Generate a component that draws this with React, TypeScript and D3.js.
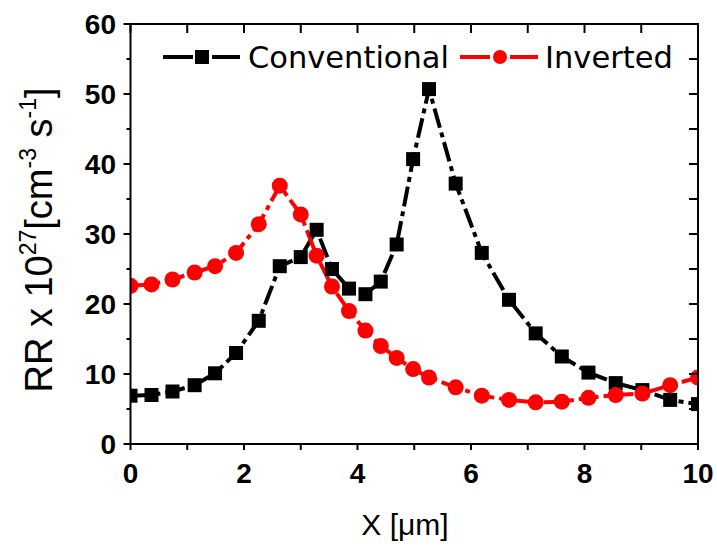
import React from "react";
import * as d3 from "d3";

const positions = [0, 0.37, 0.74, 1.13, 1.49, 1.86, 2.26, 2.63, 3.0, 3.28, 3.55, 3.85, 4.14, 4.41, 4.69, 4.98, 5.26, 5.73, 6.19, 6.67, 7.14, 7.6, 8.07, 8.55, 9.02, 9.51, 10];
const conventional = [6.9, 7.0, 7.5, 8.4, 10.1, 13.0, 17.6, 25.4, 26.7, 30.6, 25.0, 22.2, 21.4, 23.2, 28.5, 40.7, 50.7, 37.2, 27.3, 20.6, 15.8, 12.5, 10.2, 8.7, 7.7, 6.3, 5.7];
const inverted = [22.6, 22.8, 23.5, 24.5, 25.4, 27.3, 31.4, 36.9, 32.8, 26.9, 22.5, 19.0, 16.2, 14.0, 12.3, 10.7, 9.5, 8.1, 6.9, 6.3, 5.95, 6.05, 6.6, 7.0, 7.2, 8.4, 9.5];
const xTickLabels = [0, 2, 4, 6, 8, 10];
const yTickLabels = [0, 10, 20, 30, 40, 50, 60];
const seriesNames = ["Conventional", "Inverted"];

const W = 717;
const H = 546;
const L = 130.5, R = 698, T = 24, B = 444;

export default function App() {
  const x = d3.scaleLinear().domain([0, 10]).range([L, R]);
  const y = d3.scaleLinear().domain([0, 60]).range([B, T]);
  const line = d3.line<[number, number]>().x((d) => x(d[0])).y((d) => y(d[1]));
  const convPts = positions.map((p, i) => [p, conventional[i]] as [number, number]);
  const invPts = positions.map((p, i) => [p, inverted[i]] as [number, number]);
  const xMinor = d3.range(0, 10.001, 1);
  const yMinor = d3.range(0, 60.001, 5);
  const font = "'Liberation Sans', Arial, sans-serif";
  const font2 = "'DejaVu Sans', Verdana, sans-serif";
  const sq = 14;
  const cr = 8;
  return (
    <svg width={W} height={H} style={{ position: "absolute", left: 0, top: 0, background: "#fff" }}>
      <rect x={0} y={0} width={W} height={H} fill="#fff" />
      <defs>
        <clipPath id="plot">
          <rect x={L} y={T} width={R - L} height={B - T} />
        </clipPath>
      </defs>
      <g clipPath="url(#plot)">
        <path d={line(convPts) || ""} fill="none" stroke="#000" strokeWidth={4} strokeDasharray="20,5,5,5" />
        <path d={line(invPts) || ""} fill="none" stroke="#ff0000" strokeWidth={4} strokeDasharray="20,5,5,5" />
        {convPts.map((d, i) => (
          <rect key={"c" + i} x={x(d[0]) - sq / 2} y={y(d[1]) - sq / 2} width={sq} height={sq} fill="#000" />
        ))}
        {invPts.map((d, i) => (
          <circle key={"i" + i} cx={x(d[0])} cy={y(d[1])} r={cr} fill="#ff0000" />
        ))}
      </g>
      <rect x={L} y={T} width={R - L} height={B - T} fill="none" stroke="#000" strokeWidth={2} />
      {xMinor.map((v) => (
        <line key={"bx" + v} x1={x(v)} x2={x(v)} y1={B} y2={B + 6} stroke="#000" strokeWidth={2} />
      ))}
      {xMinor.map((v) => (
        <line key={"tx" + v} x1={x(v)} x2={x(v)} y1={T} y2={T + 9} stroke="#000" strokeWidth={2} />
      ))}
      {yMinor.map((v) => (
        <line key={"ly" + v} x1={L - (v % 10 === 0 ? 7 : 4)} x2={L} y1={y(v)} y2={y(v)} stroke="#000" strokeWidth={2} />
      ))}
      {yMinor.map((v) => (
        <line key={"ry" + v} x1={R - 9} x2={R} y1={y(v)} y2={y(v)} stroke="#000" strokeWidth={2} />
      ))}
      {xTickLabels.map((v) => (
        <text key={"xl" + v} x={x(v)} y={483} textAnchor="middle" fontFamily={font} fontWeight="bold" fontSize={28}>
          {v}
        </text>
      ))}
      {yTickLabels.map((v) => (
        <text key={"yl" + v} x={116} y={y(v)} dy="0.36em" textAnchor="end" fontFamily={font} fontWeight="bold" fontSize={28}>
          {v}
        </text>
      ))}
      <text x={405} y={535} textAnchor="middle" fontFamily={font} fontSize={30}>
        X [μm]
      </text>
      <text transform={`translate(52,240) rotate(-90)`} textAnchor="middle" fontFamily={font} fontSize={38}>
        RR x 10<tspan fontSize={23} dy={-16}>27</tspan>
        <tspan fontSize={38} dy={16}>[cm</tspan>
        <tspan fontSize={23} dy={-16}>-3</tspan>
        <tspan fontSize={38} dy={16}> s</tspan>
        <tspan fontSize={23} dy={-16}>-1</tspan>
        <tspan fontSize={38} dy={16}>]</tspan>
      </text>
      <line x1={163} x2={193} y1={57} y2={57} stroke="#000" strokeWidth={4} />
      <line x1={212} x2={240} y1={57} y2={57} stroke="#000" strokeWidth={4} />
      <rect x={202 - sq / 2} y={57 - sq / 2} width={sq} height={sq} fill="#000" />
      <text x={248} y={68} fontFamily={font2} fontSize={30.5}>{seriesNames[0]}</text>
      <line x1={460} x2={490} y1={57} y2={57} stroke="#ff0000" strokeWidth={4} />
      <line x1={510} x2={538} y1={57} y2={57} stroke="#ff0000" strokeWidth={4} />
      <circle cx={500} cy={57} r={7} fill="#ff0000" />
      <text x={545} y={68} fontFamily={font2} fontSize={30.5}>{seriesNames[1]}</text>
    </svg>
  );
}
